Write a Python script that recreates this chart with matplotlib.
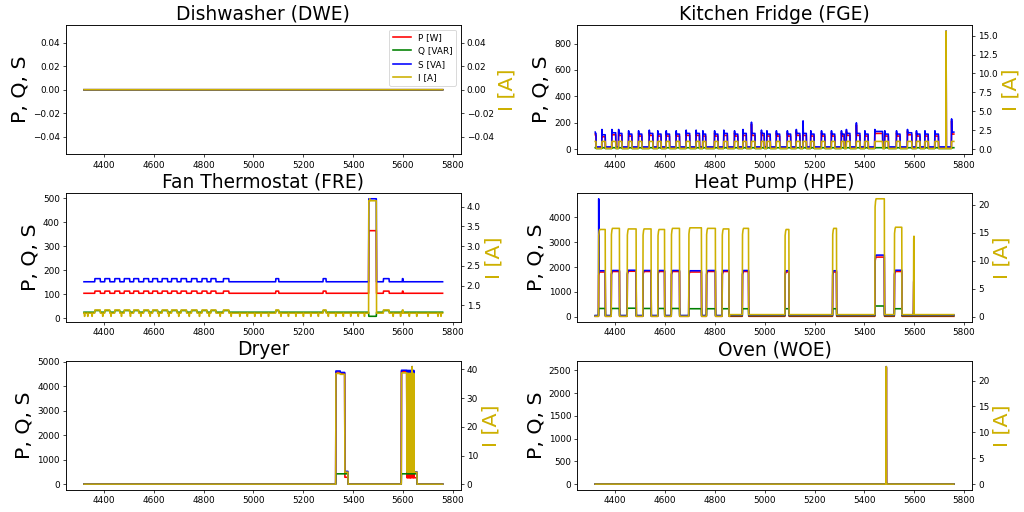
import numpy as np
import matplotlib
matplotlib.use("Agg")
import matplotlib.pyplot as plt

# ---------------- data ----------------
t = np.arange(4320, 5760)          # minutes

titles = ["Dishwasher (DWE)", "Kitchen Fridge (FGE)", "Fan Thermostat (FRE)",
          "Heat Pump (HPE)", "Dryer", "Oven (WOE)"]

# Kitchen fridge compressor cycles: start, length, first-minute S, plateau S
fge_start = [4320, 4347, 4387, 4414, 4454, 4494, 4537, 4571, 4605, 4645, 4685, 4725,
             4752, 4799, 4836, 4879, 4913, 4947, 4987, 5009, 5047, 5091, 5127, 5154,
             5185, 5228, 5268, 5308, 5328, 5368, 5402, 5442, 5482, 5529, 5573, 5609,
             5643, 5683, 5750]
fge_len = [4, 14, 16, 14, 14, 14, 15, 14, 14, 14, 15, 14,
           12, 14, 15, 14, 14, 15, 12, 14, 14, 14, 15, 14,
           14, 14, 14, 12, 15, 15, 14, 32, 15, 15, 18, 15,
           14, 15, 10]
fge_peak = [130, 150, 150, 150, 140, 140, 145, 140, 140, 140, 145, 145,
            140, 140, 145, 140, 150, 205, 145, 140, 140, 140, 150, 215,
            140, 140, 140, 140, 150, 200, 140, 150, 140, 140, 150, 140,
            140, 140, 230]
fge_plateau = [120, 110, 125, 120, 115, 115, 120, 115, 115, 115, 120, 120,
               115, 115, 120, 115, 120, 120, 120, 115, 115, 115, 120, 120,
               115, 115, 115, 115, 120, 120, 115, 135, 115, 115, 125, 115,
               115, 115, 130]
fge_spike_t, fge_spike_S, fge_spike_I = 5728, 895, 15.6

# Fan thermostat: S bumps (start, end), I dips, big spike
fre_bumps = [(4364, 4386), (4404, 4424), (4444, 4464), (4482, 4504), (4520, 4540),
             (4560, 4580), (4596, 4616), (4634, 4656), (4672, 4694), (4710, 4732),
             (4752, 4774), (4794, 4814), (4830, 4850), (4880, 4902), (5090, 5102),
             (5280, 5292), (5522, 5545), (5598, 5601)]
fre_dips = [4322, 4335, 4352, 4395, 4428, 4470, 4506, 4548, 4585, 4620, 4660, 4700,
            4742, 4783, 4822, 4866, 4910, 4945, 4975, 5005, 5030, 5060, 5110, 5140,
            5170, 5200, 5230, 5260, 5300, 5330, 5360, 5390, 5420, 5445, 5560, 5590,
            5625, 5655, 5700, 5740, 5752]
fre_spike = (5463, 5494)

# Heat pump cycles
hpe_start = [4334, 4385, 4449, 4512, 4572, 4626, 4696, 4767, 4830, 4911, 5082, 5273,
             5443, 5521, 5598]
hpe_end = [4361, 4418, 4485, 4545, 4599, 4659, 4747, 4803, 4857, 4936, 5098, 5289,
           5481, 5551, 5600]
hpe_P = [1800, 1820, 1830, 1820, 1820, 1820, 1800, 1820, 1820, 1820, 1800, 1800,
         2400, 1820, 1500]
hpe_S = [1850, 1860, 1870, 1860, 1860, 1860, 1850, 1860, 1860, 1860, 1850, 1850,
         2480, 1870, 1550]
hpe_Q = [330, 330, 340, 330, 330, 330, 320, 320, 320, 320, 320, 320, 430, 320, 250]
hpe_I = [15.6, 15.8, 15.7, 15.7, 15.6, 15.8, 15.9, 15.8, 15.7, 15.8, 15.6, 15.8,
         21.1, 16.0, 15.0]
hpe_rise = [0.93, 0.96, 0.98, 0.99]
hpe_first_S = 4750

# Dryer: (start, end, P, Q, S, I)
dry_events = [(5331, 5349, 4580, 420, 4620, 38.6),
              (5349, 5367, 4530, 420, 4560, 38.3),
              (5367, 5380, 280, 420, 520, 4.2),
              (5594, 5616, 4610, 420, 4650, 38.8)]
dry_burst_t0 = 5616
dry_burst = [0, 0, 1, 1, 0, 0, 1, 1, 0, 1, 1, 0, 0, 1, 0, 1, 1, 0, 0, 1, 1, 2, 0, 0,
             1, 1, 0, 1, 1, 0, 0, 0, 0, 0, 0, 0, 0, 0, 0, 0, 0]
dry_burst_end = 5657

# Oven
woe_t, woe_P, woe_Q, woe_S, woe_I = 5488, 2560, 40, 2580, 22.7

# ---------------- build series ----------------
def zeros():
    return np.zeros(t.shape)

series = []
# DWE
series.append((zeros(), zeros(), zeros(), zeros()))

# FGE
P = np.full(t.shape, 10.0); Q = np.full(t.shape, 6.0)
S = np.full(t.shape, 18.0); I = np.full(t.shape, 0.12)
for s0, ln, pk, pl in zip(fge_start, fge_len, fge_peak, fge_plateau):
    m = (t >= s0) & (t < s0 + ln)
    S[m] = pl; P[m] = pl - 15; Q[m] = 12; I[m] = 1.05
    S[t == s0] = pk; P[t == s0] = pk - 15
m = t == fge_spike_t
S[m] = fge_spike_S; P[m] = fge_spike_S - 5; I[m] = fge_spike_I
series.append((P, Q, S, I))

# FRE
P = np.full(t.shape, 104.0); Q = np.full(t.shape, 25.0)
S = np.full(t.shape, 152.0); I = np.full(t.shape, 1.30)
for a, b in fre_bumps:
    m = (t >= a) & (t < b)
    P[m] = 113; S[m] = 165; Q[m] = 32; I[m] = 1.38
for d in fre_dips:
    m = (t >= d) & (t < d + 2)
    I[m] = 1.22
m = (t >= fre_spike[0]) & (t < fre_spike[1])
P[m] = 365; S[m] = 498; Q[m] = 8; I[m] = 4.15
I[(t == fre_spike[0] + 4)] = 4.2
series.append((P, Q, S, I))

# HPE
P = np.full(t.shape, 15.0); Q = np.full(t.shape, 40.0)
S = np.full(t.shape, 45.0); I = np.full(t.shape, 0.05)
late = t >= 4860
I[late] = 0.35; S[late] = 70
for k, (a, b) in enumerate(zip(hpe_start, hpe_end)):
    m = (t >= a) & (t < b)
    P[m] = hpe_P[k]; S[m] = hpe_S[k]; Q[m] = hpe_Q[k]; I[m] = hpe_I[k]
    for j, f in enumerate(hpe_rise):
        if a + j < b:
            idx = t == a + j
            I[idx] = hpe_I[k] * f; P[idx] = hpe_P[k] * f; S[idx] = hpe_S[k] * f
S[t == hpe_start[0]] = hpe_first_S
series.append((P, Q, S, I))

# Dryer
P = np.full(t.shape, 5.0); Q = np.zeros(t.shape)
S = np.full(t.shape, 5.0); I = np.full(t.shape, 0.05)
for a, b, p, q, s, i in dry_events:
    m = (t >= a) & (t < b)
    P[m] = p; Q[m] = q; S[m] = s; I[m] = i
lvl = {0: (260, 420, 500, 4.2), 1: (4600, 420, 4640, 38.6), 2: (4780, 420, 4800, 41.0)}
for j, code in enumerate(dry_burst):
    tt = dry_burst_t0 + j
    if tt >= dry_burst_end:
        break
    m = t == tt
    P[m], Q[m], S[m], I[m] = lvl[code]
series.append((P, Q, S, I))

# Oven
P = np.zeros(t.shape); Q = np.zeros(t.shape); S = np.zeros(t.shape); I = np.zeros(t.shape)
m = t == woe_t
P[m] = woe_P; Q[m] = woe_Q; S[m] = woe_S; I[m] = woe_I
series.append((P, Q, S, I))

# ---------------- plot ----------------
ycol = "#cdb000"
plt.rcParams["lines.linewidth"] = 1.8
fig, axes = plt.subplots(3, 2, figsize=(16, 8), dpi=64)
plt.subplots_adjust(left=0.0645, right=0.949, top=0.951, bottom=0.043,
                    wspace=0.296, hspace=0.298)

for k, ax in enumerate(axes.flat):
    P, Q, S, I = series[k]
    lp, = ax.plot(t, P, color="r", label="P [W]")
    lq, = ax.plot(t, Q, color="g", label="Q [VAR]")
    ls, = ax.plot(t, S, color="b", label="S [VA]")
    ax2 = ax.twinx()
    li, = ax2.plot(t, I, color=ycol, label="I [A]")
    ax.set_title(titles[k], fontsize=21)
    ax.set_ylabel("P, Q, S", fontsize=23)
    ax2.set_ylabel("I [A]", fontsize=23, color=ycol)
    ax.set_xticks([4400, 4600, 4800, 5000, 5200, 5400, 5600, 5800])
    if k == 0:
        ax2.legend(handles=[lp, lq, ls, li], loc="upper right")

fig.savefig("out.png", dpi=64)
